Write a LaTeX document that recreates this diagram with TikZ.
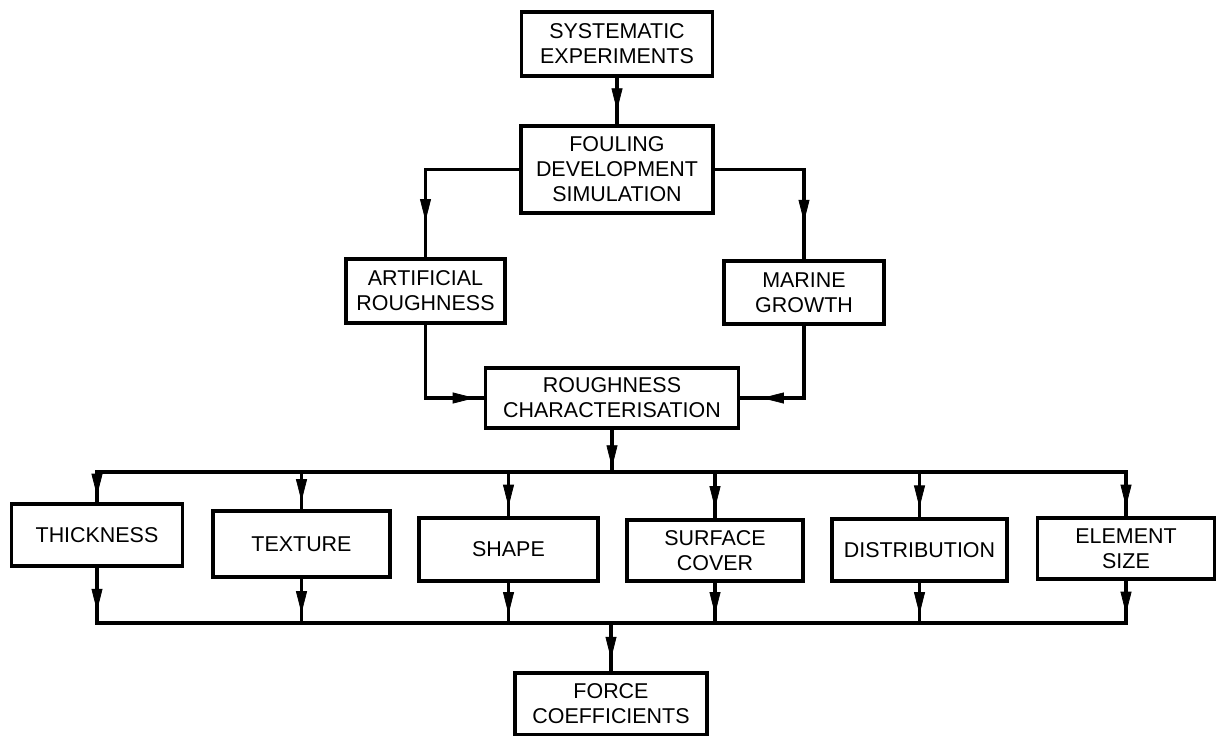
\documentclass[tikz,border=0pt]{standalone}
\usepackage{fontspec}
\setmainfont{Liberation Sans}
\usetikzlibrary{arrows.meta,decorations.markings}
\tikzset{
blocco/.style={draw,line width=1.8pt,align=center,inner sep=0pt,font=\fontsize{12.2}{14.2}\selectfont},
linea/.style={line width=1.8pt,line cap=rect},
freccia/.style={linea,postaction={decorate},decoration={markings,mark=at position #1 with {\arrow[line width=0.4pt]{Triangle[length=4.4mm,width=2.2mm]}}}},
freccia/.default=0.5}

\begin{document}
\begin{tikzpicture}[x=0.02cm,y=-0.02cm]
\useasboundingbox (0,0) rectangle (1217,735);

\node[blocco,minimum width=3.82cm,minimum height=1.28cm] (sys) at (617,44) {SYSTEMATIC\\EXPERIMENTS};
\node[blocco,minimum width=3.84cm,minimum height=1.74cm] (foul) at (617,169.5) {FOULING\\DEVELOPMENT\\SIMULATION};
\node[blocco,minimum width=3.18cm,minimum height=1.28cm] (art) at (425.5,291) {ARTIFICIAL\\ROUGHNESS};
\node[blocco,minimum width=3.20cm,minimum height=1.26cm] (mar) at (804,292.5) {MARINE\\GROWTH};
\node[blocco,minimum width=5.06cm,minimum height=1.20cm] (rch) at (612,398) {ROUGHNESS\\CHARACTERISATION};

\node[blocco,minimum width=3.42cm,minimum height=1.24cm] (thick) at (97,535) {THICKNESS};
\node[blocco,minimum width=3.54cm,minimum height=1.32cm] (tex) at (301.5,544) {TEXTURE};
\node[blocco,minimum width=3.58cm,minimum height=1.26cm] (shape) at (508.5,549.5) {SHAPE};
\node[blocco,minimum width=3.52cm,minimum height=1.22cm] (surf) at (715,550.5) {SURFACE\\COVER};
\node[blocco,minimum width=3.50cm,minimum height=1.24cm] (dist) at (919.5,550) {DISTRIBUTION};
\node[blocco,minimum width=3.54cm,minimum height=1.22cm] (elem) at (1126,548.5) {ELEMENT\\SIZE};

\node[blocco,minimum width=3.84cm,minimum height=1.24cm] (force) at (611,704) {FORCE\\COEFFICIENTS};

\coordinate (su) at (612,472);
\coordinate (giu) at (611,623);

\draw[freccia=0.7] (sys.south) -- (foul.north);
\draw[freccia=0.8] (foul.west) -| (art.north);
\draw[freccia=0.79] (foul.east) -| (mar.north);
\draw[freccia=0.93] (art.south) |- (rch.west);
\draw[freccia=0.84] (mar.south) |- (rch.east);
\draw[freccia=0.89] (rch) -- (su);

\draw[linea] (thick.north |- su) -- (elem.north |- su);
\foreach \n in {thick,tex,shape,surf,dist,elem}
	\draw[freccia=0.78] (\n.north |- su) -- (\n.north);
\foreach \n in {thick,tex,shape,surf,dist,elem}
	\draw[freccia=0.78] (\n.south) -- (\n.south |- giu);
\draw[linea] (thick.south |- giu) -- (elem.south |- giu);
\draw[freccia=0.74] (giu) -- (force);
\end{tikzpicture}
\end{document}
